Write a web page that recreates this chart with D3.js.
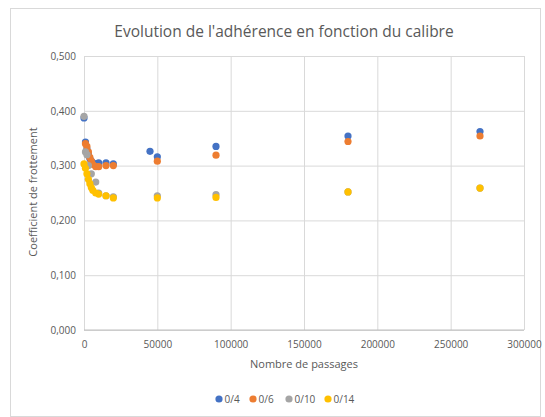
<!DOCTYPE html>
<html><head><meta charset="utf-8">
<script src="https://cdn.jsdelivr.net/npm/d3@7"></script>
<style>body{margin:0;background:#fff;} text{font-family:"Open Sans",sans-serif;}</style>
</head><body>
<svg id="c" width="545" height="417"></svg>
<script>
const seriesNames = ["0/4", "0/6", "0/10", "0/14"];
const colors = ["#4472c4", "#ed7d31", "#a5a5a5", "#ffc000"];
const x04 = [0, 1000, 2000, 3000, 4000, 5000, 6000, 8000, 10000, 15000, 20000, 45000, 50000, 90000, 180000, 270000];
const y04 = [0.387, 0.343, 0.330, 0.320, 0.313, 0.308, 0.305, 0.303, 0.305, 0.305, 0.303, 0.326, 0.316, 0.335, 0.354, 0.362];
const x06 = [1000, 2000, 3000, 4000, 5000, 6000, 8000, 10000, 15000, 20000, 50000, 90000, 180000, 270000];
const y06 = [0.340, 0.335, 0.325, 0.315, 0.308, 0.302, 0.298, 0.298, 0.300, 0.300, 0.308, 0.319, 0.344, 0.354];
const x010 = [0, 1000, 2000, 3000, 5000, 8000, 10000, 15000, 20000, 50000, 90000, 180000, 270000];
const y010 = [0.390, 0.325, 0.320, 0.300, 0.285, 0.270, 0.250, 0.245, 0.243, 0.245, 0.247, 0.252, 0.259];
const x014 = [0, 1000, 2000, 3000, 4000, 5000, 6000, 8000, 10000, 15000, 20000, 50000, 90000, 180000, 270000];
const y014 = [0.303, 0.295, 0.285, 0.275, 0.267, 0.260, 0.255, 0.250, 0.248, 0.245, 0.241, 0.241, 0.242, 0.252, 0.259];
const xTicks = [0, 50000, 100000, 150000, 200000, 250000, 300000];
const yTicks = [0, 0.1, 0.2, 0.3, 0.4, 0.5];

const series = [[x04, y04], [x06, y06], [x010, y010], [x014, y014]];
const svg = d3.select("#c");
const L = 84, R = 524, T = 56, B = 330;
const x = d3.scaleLinear().domain([0, 300000]).range([L, R]);
const y = d3.scaleLinear().domain([0, 0.5]).range([B, T]);
const txt = "#595959", grid = "#d9d9d9";

svg.append("rect").attr("x", 10.5).attr("y", 8.5).attr("width", 530).attr("height", 408)
  .attr("fill", "#fff").attr("stroke", grid);

svg.append("text").attr("x", 284).attr("y", 37).attr("text-anchor", "middle")
  .attr("font-size", 15.5).attr("fill", txt).text("Evolution de l'adhérence en fonction du calibre");

const ya = d3.axisLeft(y).tickValues(yTicks).tickSize(-(R - L)).tickFormat(d => d3.format(".3f")(d).replace(".", ","));
const gy = svg.append("g").attr("transform", `translate(${L},0)`).call(ya);
gy.select(".domain").remove();
gy.selectAll("line").attr("stroke", grid);
gy.selectAll("text").attr("fill", txt).attr("font-size", 10).attr("x", -8).style("font-family", "Open Sans");

const xa = d3.axisBottom(x).tickValues(xTicks).tickSize(-(B - T)).tickFormat(d3.format("d"));
const gx = svg.append("g").attr("transform", `translate(0,${B})`).call(xa);
gx.select(".domain").remove();
gx.selectAll("line").attr("stroke", grid);
gx.selectAll("text").attr("fill", txt).attr("font-size", 10).attr("y", 11).style("font-family", "Open Sans");

svg.append("line").attr("x1", L).attr("x2", R).attr("y1", B).attr("y2", B).attr("stroke", "#bfbfbf");

svg.append("text").attr("x", 304).attr("y", 368).attr("text-anchor", "middle")
  .attr("font-size", 11).attr("fill", txt).text("Nombre de passages");
svg.append("text").attr("transform", "translate(37,192) rotate(-90)").attr("text-anchor", "middle")
  .attr("font-size", 11).attr("fill", txt).text("Coefficient de frottement");

series.forEach(([xs, ys], i) => {
  svg.append("g").selectAll("circle").data(xs.map((v, j) => [v, ys[j]])).join("circle")
    .attr("cx", d => x(d[0])).attr("cy", d => y(d[1])).attr("r", 3.6).attr("fill", colors[i]);
});

const lx = [219, 253, 289, 328];
seriesNames.forEach((n, i) => {
  svg.append("circle").attr("cx", lx[i]).attr("cy", 399).attr("r", 3.6).attr("fill", colors[i]);
  svg.append("text").attr("x", lx[i] + 5.5).attr("y", 402.5).attr("font-size", 10).attr("fill", txt).text(n);
});
</script>
</body></html>
